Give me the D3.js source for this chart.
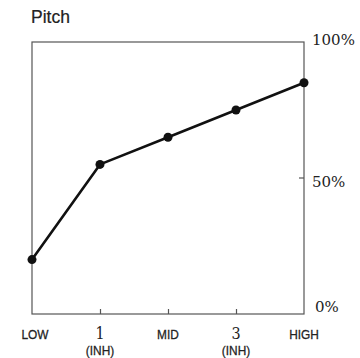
<!DOCTYPE html>
<html><head><meta charset="utf-8">
<script src="https://cdn.jsdelivr.net/npm/d3@7"></script>
<style>html,body{margin:0;padding:0;background:#fff;}</style>
</head><body>
<svg id="c" width="360" height="358"></svg>
<script>
const categories = ["LOW", "1", "MID", "3", "HIGH"];
const subLabels = ["", "(INH)", "", "(INH)", ""];
const pitchValues = [20, 55, 65, 75, 85];
const yTicks = [0, 50, 100];
const title = "Pitch";

const svg = d3.select("#c");
const m = {left: 32, right: 304, top: 42, bottom: 314};
const x = d3.scalePoint().domain(categories).range([m.left, m.right]);
const y = d3.scaleLinear().domain([0, 100]).range([m.bottom, m.top]);
const frame = "#555";
const sans = "'Liberation Sans', Arial, sans-serif";
const serif = "'DejaVu Serif', serif";

svg.append("text").attr("x", 31).attr("y", 23)
  .attr("font-family", sans).attr("font-size", 17.5)
  .attr("fill", "#222").attr("stroke", "#222").attr("stroke-width", 0.2).text(title);

svg.append("rect").attr("x", m.left).attr("y", m.top)
  .attr("width", m.right - m.left).attr("height", m.bottom - m.top)
  .attr("fill", "none").attr("stroke", frame).attr("stroke-width", 1.2);

// x axis ticks (inside, pointing up)
const xa = svg.append("g").attr("transform", `translate(0,${m.bottom})`)
  .call(d3.axisBottom(x).tickSize(-5).tickFormat(""));
xa.select(".domain").remove();
xa.selectAll(".tick line").attr("stroke", frame).attr("stroke-width", 1.2)
  .filter((d, i) => i === 0 || i === categories.length - 1).remove();

categories.forEach((c, i) => {
  const isNum = !isNaN(+c);
  const t = svg.append("text").attr("x", 0).attr("y", 0).attr("text-anchor", "middle")
    .attr("fill", "#222").text(c);
  if (isNum) {
    t.attr("font-family", serif).attr("font-size", 16)
      .attr("transform", `translate(${x(c)},339) scale(0.9,1)`);
  } else {
    t.attr("font-family", sans).attr("font-size", 13.5)
      .attr("stroke", "#222").attr("stroke-width", 0.3)
      .attr("transform", `translate(${x(c) + (i === 0 ? 3 : 0)},339) scale(0.88,1)`);
  }
  if (subLabels[i]) {
    svg.append("text").attr("x", 0).attr("y", 0).attr("text-anchor", "middle")
      .attr("transform", `translate(${x(c)},355) scale(0.88,1)`)
      .attr("font-family", sans).attr("font-size", 13.5)
      .attr("stroke", "#222").attr("stroke-width", 0.3)
      .attr("fill", "#222").text(subLabels[i]);
  }
});

// right axis labels
const yOff = {0: -2, 50: 9, 100: 3};
const xOff = {0: 11, 50: 8, 100: 8};
svg.append("g").selectAll("text").data(yTicks).join("text")
  .attr("x", d => m.right + xOff[d]).attr("y", d => y(d) + yOff[d])
  .attr("font-family", serif).attr("font-size", 15).attr("fill", "#222")
  .text(d => d + "%");
svg.append("g").selectAll("line").data(yTicks.filter(d => d > 0 && d < 100)).join("line")
  .attr("x1", m.right - 5).attr("x2", m.right).attr("y1", d => y(d)).attr("y2", d => y(d))
  .attr("stroke", frame).attr("stroke-width", 1.2);

// line + points
const line = d3.line().x((d, i) => x(categories[i])).y(d => y(d));
svg.append("path").datum(pitchValues).attr("d", line).attr("fill", "none")
  .attr("stroke", "#111").attr("stroke-width", 2.6).attr("stroke-linejoin", "round");
svg.selectAll("circle.pt").data(pitchValues).join("circle").attr("class", "pt")
  .attr("cx", (d, i) => x(categories[i])).attr("cy", d => y(d)).attr("r", 4.5).attr("fill", "#111");
</script>
</body></html>
